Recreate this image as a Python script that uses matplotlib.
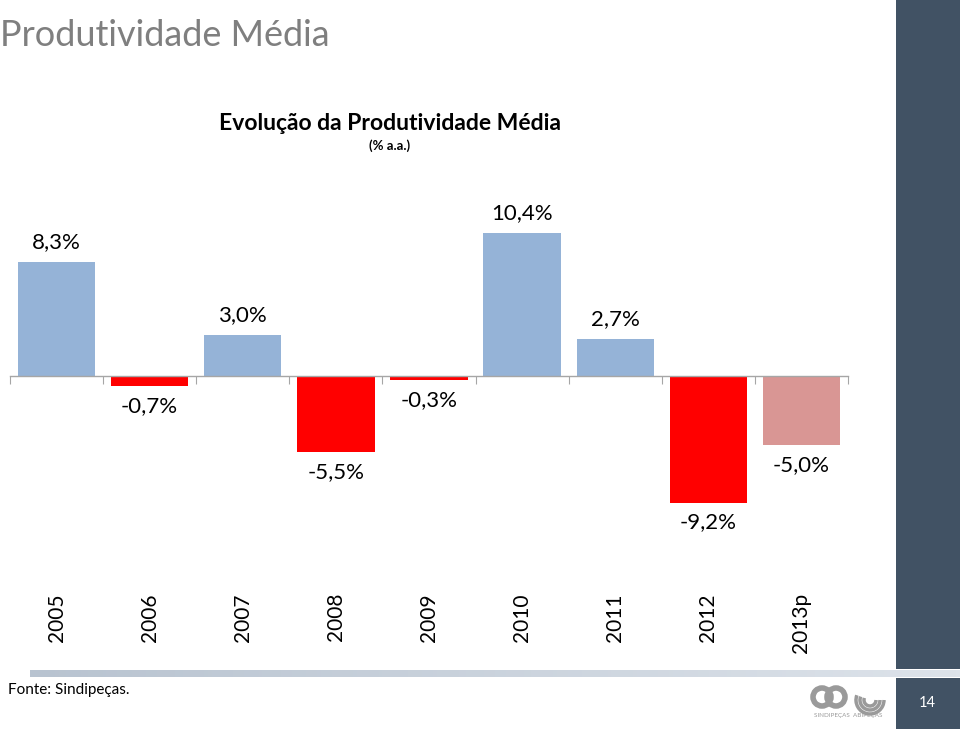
import matplotlib.pyplot as plt
import numpy as np

anos = ["2005", "2006", "2007", "2008", "2009", "2010", "2011", "2012", "2013p"]
produtividade = [8.3, -0.7, 3.0, -5.5, -0.3, 10.4, 2.7, -9.2, -5.0]
rotulos = ["8,3%", "-0,7%", "3,0%", "-5,5%", "-0,3%", "10,4%", "2,7%", "-9,2%", "-5,0%"]

AZUL = "#95B3D7"
VERMELHO = "#FF0000"
ROSA = "#D99694"
cores = [AZUL if v > 0 else VERMELHO for v in produtividade]
cores[-1] = ROSA

plt.rcParams['font.family'] = ['Lato', 'DejaVu Sans']

W, H = 960, 729
fig = plt.figure(figsize=(W / 100, H / 100), dpi=100)

# eixo do grafico (pixel 10..848 horizontal, 176..576 vertical)
ax = fig.add_axes([10 / W, (H - 576) / H, 838 / W, 400 / H])
x = np.arange(len(anos))
ax.bar(x, produtividade, width=0.83, color=cores, zorder=2)
ax.set_xlim(-0.5, len(anos) - 0.5)
ax.set_ylim(-14.545, 14.545)
for s in ["top", "right", "left"]:
    ax.spines[s].set_visible(False)
ax.spines["bottom"].set_position(("data", 0))
ax.spines["bottom"].set_color("#A6A6A6")
ax.spines["bottom"].set_linewidth(1.0)
ax.set_yticks([])
ax.set_xticks(np.arange(-0.5, len(anos), 1.0))
ax.tick_params(axis="x", length=6, color="#A6A6A6", labelbottom=False)

for xi, v, r in zip(x, produtividade, rotulos):
    off = 14.4 if v > 0 else -14.4
    ax.annotate(r, (xi, v), xytext=(0, off), textcoords="offset points",
                ha="center", va="center", fontsize=16, color="black")

# anos na parte de baixo, rotacionados
for xi, a in zip(x, anos):
    ax.text(xi, (376 - 593) / 13.75, a, rotation=90, ha="center", va="top",
            fontsize=15, color="black", clip_on=False)

# titulos
fig.text(0 / W, 1 - 36 / H, "Produtividade Média", fontsize=26, color="#7F7F7F",
         ha="left", va="center")
fig.text(390 / W, 1 - 123 / H, "Evolução da Produtividade Média", fontsize=16.5,
         fontweight="bold", ha="center", va="center")
fig.text(390 / W, 1 - 146 / H, "(% a.a.)", fontsize=9.5, fontweight="bold",
         ha="center", va="center")

# barra escura a direita
bg = fig.add_axes([0, 0, 1, 1], zorder=-1)
bg.set_xlim(0, W)
bg.set_ylim(H, 0)
bg.axis("off")
bg.add_patch(plt.Rectangle((896, 0), 64, 669, color="#415264", lw=0))
bg.add_patch(plt.Rectangle((896, 678), 64, 51, color="#415264", lw=0))

# linha em degrade
grad = np.linspace(0, 1, 256).reshape(1, -1)
bg.imshow(grad, extent=(30, 960, 677, 670), cmap=plt.matplotlib.colors.LinearSegmentedColormap.from_list(
    "g", ["#B8C3D0", "#DDE3EA"]), aspect="auto", zorder=0)

fig.text(8 / W, 1 - 690 / H, "Fonte: Sindipeças.", fontsize=11, ha="left", va="center")
fig.text(927 / W, 1 - 703 / H, "14", fontsize=10.5, color="white", ha="center", va="center")

# logo (aproximado)
for cx in [822, 836]:
    bg.add_patch(plt.Circle((cx, 697), 9, fill=False, ec="#9A9A9A", lw=4))
for r in [6, 10, 14]:
    bg.add_patch(plt.matplotlib.patches.Arc((870, 700), 2 * r, 2 * r, theta1=0, theta2=200,
                                            ec="#9A9A9A", lw=2.5))
fig.text(848 / W, 1 - 715 / H, "SINDIPEÇAS  ABIPEÇAS", fontsize=4.5, color="#9A9A9A",
         ha="center", va="center")

fig.savefig("out.png", dpi=100)
